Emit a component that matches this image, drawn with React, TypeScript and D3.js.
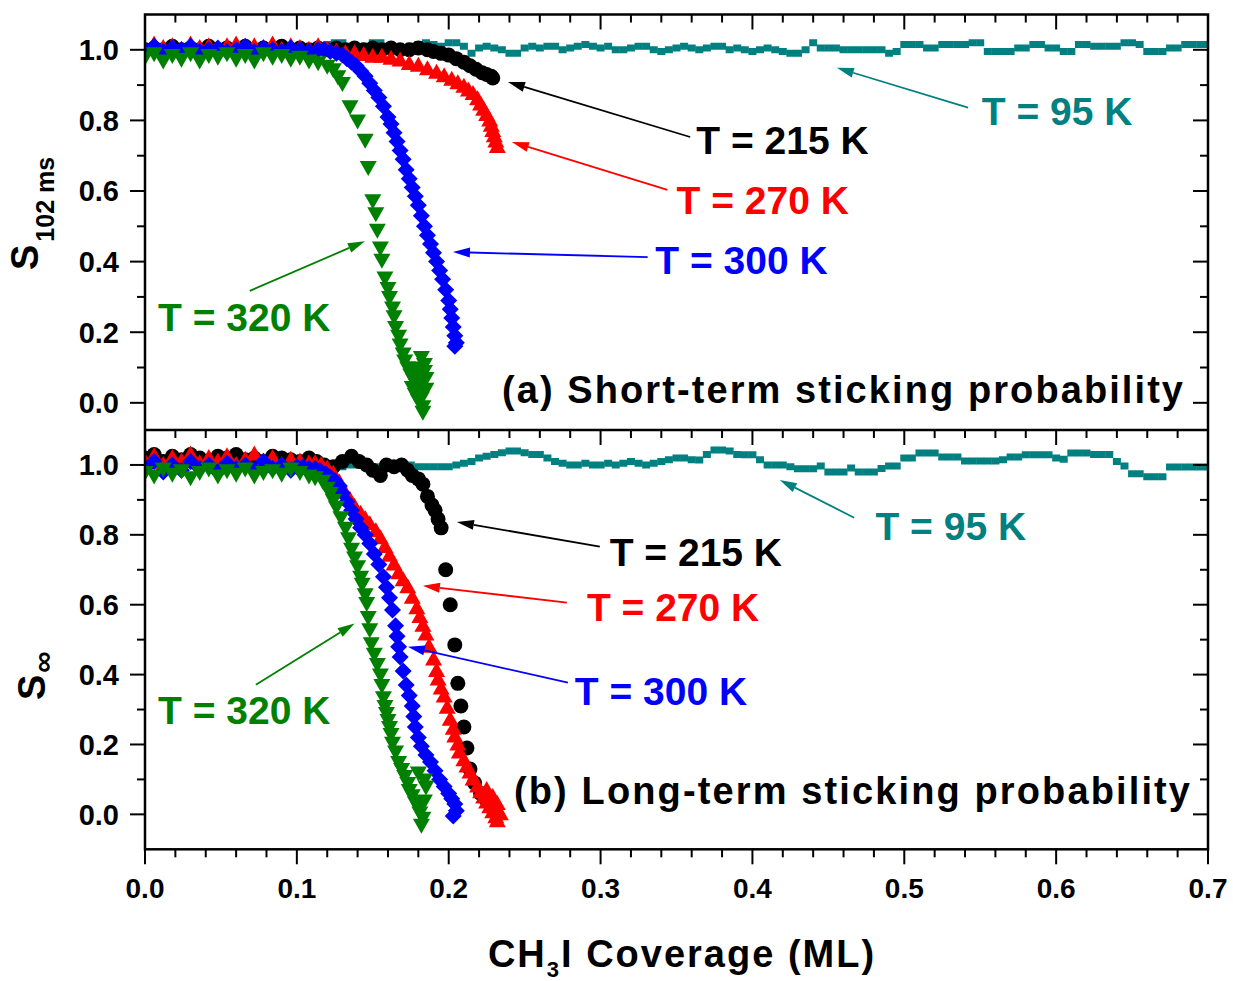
import React from "react";
import * as d3 from "d3";

// coverage axis ticks and sticking axis ticks
const xTickValues = [0, 0.1, 0.2, 0.3, 0.4, 0.5, 0.6, 0.7];
const yTickValues = [0, 0.2, 0.4, 0.6, 0.8, 1.0];

// 95 K series sampled every 0.005 ML from 0
const tealStep = 0.005;
const s95Top = [
  1.0, 1.005, 1.0, 1.01, 1.0, 1.005, 1.01, 1.0, 1.005, 1.0, 1.01, 1.005, 1.0, 1.0, 1.01, 1.005, 1.0, 1.01, 1.005, 1.0, 1.01, 1.0, 1.005, 1.01, 1.015, 1.02,
  1.02, 1.01, 1.005, 1.01, 1.02, 1.02, 1.01, 1.005, 1.005, 1.01, 1.015, 1.02, 1.015, 1.01, 1.02, 1.02, 1.01, 0.99, 1.005, 1.01, 1.005, 1.0, 0.99, 0.99, 1.005,
  1.01, 1.005, 1.01, 1.01, 1.0, 1.005, 1.01, 1.015, 1.01, 1.005, 1.01, 1.0, 1.0, 1.005, 1.01, 1.01, 1.0, 0.995, 1.0, 1.005, 1.01, 1.005, 1.0, 1.005, 1.01, 1.01, 1.0, 1.005, 1.0, 0.995, 1.0, 1.005, 1.0, 0.995, 0.99, 0.99,
  1.0, 1.02, 1.005, 1.005, 1.005, 1.0, 1.0, 1.0, 1.0, 1.0, 1.0, 0.99, 0.995, 1.015, 1.015, 1.015, 1.005, 1.005, 1.015, 1.015, 1.015, 1.015, 1.02, 1.02,
  0.995, 0.995, 0.995, 0.995, 1.005, 1.005, 1.015, 1.015, 1.005, 1.005, 0.995, 0.995, 1.015, 1.015, 1.01, 1.01, 1.01, 1.01, 1.02, 1.02, 1.015,
  0.995, 0.995, 0.995, 1.005, 1.005, 1.015, 1.015, 1.015, 1.015,
];
const s95Bottom = [
  1.01, 1.0, 1.015, 1.01, 1.005, 1.015, 1.01, 1.0, 1.01, 1.015, 1.005, 1.01, 1.015,
  1.02, 1.02, 1.015, 1.02, 1.015, 1.01, 1.01, 1.005, 1.0, 1.0, 1.0, 1.0, 0.995, 0.995, 1.0, 1.0, 1.0, 0.995, 0.995, 1.0, 1.0, 1.0, 1.0,
  0.995, 0.995, 0.995, 0.995, 0.995, 1.0, 1.005, 1.01, 1.02, 1.025, 1.03, 1.035, 1.04, 1.04, 1.035, 1.03, 1.03, 1.02, 1.01, 1.005, 1.0, 1.0,
  1.005, 1.0, 1.0, 1.005, 1.0, 1.005, 1.01, 1.005, 1.0, 1.005, 1.01, 1.015, 1.02, 1.02, 1.015,
  1.014, 1.03, 1.043, 1.043, 1.04, 1.03, 1.029, 1.029, 1.015, 1.0, 1.0, 1.0, 0.995, 0.989, 0.989, 0.989, 0.997, 0.98, 0.98, 0.98, 0.991,
  0.98, 0.98, 0.98, 0.99, 0.997, 0.997, 1.02, 1.02, 1.034, 1.034, 1.034, 1.023, 1.023, 1.023, 1.011, 1.011, 1.011, 1.011, 1.011, 1.015,
  1.023, 1.023, 1.029, 1.029, 1.029, 1.029, 1.02, 1.016, 1.034, 1.034, 1.034, 1.03, 1.03, 1.03, 1.01, 0.997, 0.975, 0.975, 0.966, 0.966,
  0.966, 0.994, 0.994, 0.994, 0.994, 0.994, 0.994,
];

// (a) short-term sticking probability, [coverage, S]
const s215Top: [number, number][] = [
  [0, 1.0], [0.006, 1.005], [0.012, 1.0], [0.018, 1.01], [0.024, 1.0], [0.03, 1.005], [0.036, 1.0], [0.042, 1.01], [0.048, 1.0],
  [0.054, 1.005], [0.06, 1.0], [0.066, 1.01], [0.072, 1.0], [0.078, 1.005], [0.084, 1.0], [0.09, 1.01], [0.096, 1.0], [0.102, 1.005],
  [0.108, 1.0], [0.114, 1.005], [0.12, 1.0], [0.126, 1.005], [0.132, 1.0], [0.138, 1.005], [0.144, 1.0], [0.15, 1.005], [0.156, 1.0],
  [0.162, 1.005], [0.168, 1.0], [0.174, 1.0], [0.18, 1.005], [0.186, 1.0], [0.19, 0.995], [0.195, 0.99], [0.2, 0.985], [0.205, 0.975],
  [0.21, 0.965], [0.214, 0.955], [0.218, 0.945], [0.222, 0.935], [0.225, 0.93], [0.228, 0.925], [0.229, 0.92],
];
const s270Top: [number, number][] = [
  [0, 1.0], [0.006, 1.015], [0.012, 1.005], [0.018, 1.01], [0.024, 1.0], [0.03, 1.015], [0.036, 1.005], [0.042, 1.01], [0.048, 1.0],
  [0.054, 1.01], [0.06, 1.015], [0.066, 1.0], [0.072, 1.01], [0.078, 1.005], [0.084, 1.015], [0.09, 1.0], [0.096, 1.01], [0.102, 1.005],
  [0.108, 1.0], [0.114, 1.01], [0.12, 1.0], [0.126, 0.995], [0.132, 0.99], [0.138, 0.99], [0.144, 0.985], [0.15, 0.98], [0.156, 0.98],
  [0.162, 0.975], [0.168, 0.97], [0.174, 0.96], [0.18, 0.955], [0.186, 0.945], [0.192, 0.935], [0.197, 0.925], [0.202, 0.915],
  [0.206, 0.905], [0.21, 0.895], [0.213, 0.885], [0.216, 0.875], [0.219, 0.86], [0.221, 0.845], [0.223, 0.83], [0.225, 0.815],
  [0.227, 0.8], [0.228, 0.785], [0.229, 0.77], [0.23, 0.755], [0.231, 0.74], [0.232, 0.725],
];
const s300Top: [number, number][] = [
  [0, 1.0], [0.006, 1.01], [0.012, 0.995], [0.018, 1.005], [0.024, 1.0], [0.03, 1.01], [0.036, 0.995], [0.042, 1.0], [0.048, 1.005],
  [0.054, 0.995], [0.06, 1.0], [0.066, 1.01], [0.072, 0.995], [0.078, 1.005], [0.084, 1.0], [0.09, 0.995], [0.096, 1.005], [0.102, 1.0],
  [0.108, 0.995], [0.114, 1.0], [0.118, 1.0], [0.122, 0.995], [0.126, 0.99], [0.13, 0.985], [0.133, 0.975], [0.136, 0.965],
  [0.139, 0.955], [0.142, 0.94], [0.145, 0.925], [0.148, 0.905], [0.151, 0.885], [0.154, 0.865], [0.157, 0.84], [0.16, 0.81],
  [0.162, 0.79], [0.164, 0.765], [0.166, 0.74], [0.168, 0.715], [0.17, 0.69], [0.172, 0.66], [0.174, 0.635], [0.176, 0.61],
  [0.178, 0.585], [0.18, 0.56], [0.182, 0.53], [0.184, 0.5], [0.186, 0.475], [0.188, 0.45], [0.19, 0.425], [0.192, 0.4],
  [0.194, 0.375], [0.196, 0.35], [0.198, 0.32], [0.2, 0.29], [0.201, 0.265], [0.202, 0.24], [0.203, 0.215], [0.204, 0.19],
  [0.205, 0.17], [0.204, 0.16],
];
const s320Top: [number, number][] = [
  [0, 0.98], [0.006, 0.99], [0.012, 0.97], [0.018, 0.985], [0.024, 0.975], [0.03, 0.99], [0.036, 0.97], [0.042, 0.985], [0.048, 0.98],
  [0.054, 0.99], [0.06, 0.975], [0.066, 0.985], [0.072, 0.97], [0.078, 0.99], [0.084, 0.98], [0.09, 0.985], [0.096, 0.975],
  [0.102, 0.98], [0.108, 0.97], [0.114, 0.965], [0.12, 0.955], [0.124, 0.945], [0.127, 0.925], [0.13, 0.906], [0.135, 0.84],
  [0.14, 0.8], [0.145, 0.745], [0.147, 0.668], [0.15, 0.574], [0.152, 0.537], [0.153, 0.49], [0.155, 0.44], [0.156, 0.405],
  [0.158, 0.355], [0.16, 0.325], [0.161, 0.3], [0.163, 0.27], [0.164, 0.245], [0.165, 0.215], [0.167, 0.19], [0.168, 0.165],
  [0.17, 0.14], [0.171, 0.12], [0.173, 0.1], [0.175, 0.08], [0.177, 0.065], [0.176, 0.045], [0.179, 0.05], [0.178, 0.025],
  [0.181, 0.035], [0.18, 0.008], [0.183, 0.06], [0.182, 0.015], [0.184, 0.09], [0.183, -0.01], [0.185, 0.04], [0.183, -0.025],
  [0.178, 0.1], [0.181, 0.08], [0.184, 0.11], [0.182, 0.13], [0.185, 0.07],
];

// (b) long-term sticking probability, [coverage, S]
const s215Bottom: [number, number][] = [
  [0, 1.02], [0.006, 1.03], [0.012, 1.01], [0.018, 1.025], [0.024, 1.015], [0.03, 1.03], [0.036, 1.02], [0.042, 1.01], [0.048, 1.025],
  [0.054, 1.02], [0.06, 1.03], [0.066, 1.015], [0.072, 1.02], [0.078, 1.01], [0.084, 1.025], [0.09, 1.02], [0.096, 1.015],
  [0.102, 1.01], [0.108, 1.02], [0.113, 1.01], [0.118, 1.0], [0.124, 0.995], [0.13, 1.01], [0.136, 1.025], [0.141, 1.01],
  [0.146, 1.0], [0.15, 0.985], [0.155, 0.97], [0.159, 1.0], [0.164, 0.995], [0.169, 1.0], [0.173, 0.985], [0.176, 0.97],
  [0.18, 0.96], [0.183, 0.945], [0.186, 0.91], [0.189, 0.885], [0.191, 0.87], [0.193, 0.845], [0.195, 0.82], [0.198, 0.7],
  [0.201, 0.6], [0.204, 0.485], [0.206, 0.375], [0.208, 0.31], [0.21, 0.25], [0.212, 0.19], [0.214, 0.13], [0.217, 0.09],
  [0.221, 0.06], [0.225, 0.04], [0.228, 0.02],
];
const s270Bottom: [number, number][] = [
  [0, 1.01], [0.006, 1.025], [0.012, 1.0], [0.018, 1.02], [0.024, 1.01], [0.03, 1.03], [0.036, 1.005], [0.042, 1.02], [0.048, 1.01],
  [0.054, 1.025], [0.06, 1.0], [0.066, 1.015], [0.072, 1.03], [0.078, 1.01], [0.084, 1.02], [0.09, 1.0], [0.096, 1.015],
  [0.102, 1.01], [0.108, 1.005], [0.112, 1.005], [0.116, 1.0], [0.12, 0.99], [0.124, 0.975], [0.128, 0.95], [0.131, 0.925],
  [0.135, 0.9], [0.138, 0.88], [0.142, 0.86], [0.145, 0.845], [0.148, 0.83], [0.152, 0.81], [0.155, 0.79], [0.158, 0.765],
  [0.161, 0.74], [0.164, 0.715], [0.167, 0.69], [0.17, 0.67], [0.173, 0.65], [0.176, 0.62], [0.179, 0.59], [0.181, 0.565],
  [0.183, 0.54], [0.185, 0.515], [0.187, 0.48], [0.19, 0.443], [0.192, 0.41], [0.193, 0.386], [0.195, 0.36], [0.197, 0.337],
  [0.199, 0.305], [0.201, 0.271], [0.203, 0.245], [0.204, 0.223], [0.206, 0.2], [0.207, 0.177], [0.21, 0.155], [0.212, 0.137],
  [0.214, 0.12], [0.216, 0.1], [0.219, 0.08], [0.221, 0.063], [0.223, 0.048], [0.225, 0.034], [0.227, 0.02], [0.229, 0.006],
  [0.231, -0.008], [0.232, -0.02], [0.234, 0.0], [0.229, 0.05], [0.225, 0.07], [0.232, 0.03],
];
const s300Bottom: [number, number][] = [
  [0, 0.99], [0.006, 1.01], [0.012, 0.98], [0.018, 1.0], [0.024, 0.985], [0.03, 1.01], [0.036, 0.99], [0.042, 1.0], [0.048, 0.98],
  [0.054, 1.005], [0.06, 0.99], [0.066, 1.0], [0.072, 0.985], [0.078, 1.01], [0.084, 0.99], [0.09, 1.0], [0.096, 0.985],
  [0.1, 0.995], [0.104, 0.995], [0.108, 0.99], [0.112, 0.99], [0.115, 0.985], [0.119, 0.975], [0.122, 0.965], [0.125, 0.955],
  [0.128, 0.94], [0.13, 0.92], [0.133, 0.895], [0.136, 0.87], [0.139, 0.845], [0.142, 0.82], [0.145, 0.8], [0.148, 0.775],
  [0.151, 0.745], [0.154, 0.715], [0.157, 0.68], [0.159, 0.65], [0.161, 0.62], [0.163, 0.585], [0.165, 0.54], [0.166, 0.51],
  [0.167, 0.48], [0.168, 0.45], [0.17, 0.41], [0.172, 0.37], [0.174, 0.34], [0.176, 0.31], [0.177, 0.28], [0.178, 0.25],
  [0.18, 0.22], [0.182, 0.195], [0.185, 0.17], [0.188, 0.15], [0.191, 0.125], [0.194, 0.1], [0.197, 0.08], [0.2, 0.06],
  [0.202, 0.045], [0.204, 0.03], [0.205, 0.01], [0.203, -0.005],
];
const s320Bottom: [number, number][] = [
  [0, 0.98], [0.006, 0.97], [0.012, 0.99], [0.018, 0.975], [0.024, 0.985], [0.03, 0.965], [0.036, 0.98], [0.042, 0.99], [0.048, 0.97],
  [0.054, 0.985], [0.06, 0.975], [0.066, 0.99], [0.072, 0.97], [0.078, 0.98], [0.084, 0.985], [0.09, 0.975], [0.096, 0.99],
  [0.102, 0.98], [0.108, 0.97], [0.112, 0.965], [0.117, 0.955], [0.12, 0.935], [0.122, 0.92], [0.124, 0.9], [0.126, 0.88],
  [0.129, 0.85], [0.132, 0.82], [0.134, 0.79], [0.136, 0.76], [0.138, 0.735], [0.14, 0.71], [0.142, 0.68], [0.143, 0.66],
  [0.145, 0.63], [0.146, 0.605], [0.147, 0.565], [0.148, 0.53], [0.149, 0.49], [0.151, 0.46], [0.153, 0.43], [0.155, 0.4],
  [0.156, 0.37], [0.157, 0.335], [0.158, 0.31], [0.159, 0.29], [0.16, 0.27], [0.161, 0.25], [0.162, 0.23], [0.163, 0.205],
  [0.165, 0.18], [0.167, 0.15], [0.169, 0.13], [0.171, 0.11], [0.173, 0.09], [0.174, 0.07], [0.176, 0.055], [0.178, 0.035],
  [0.18, 0.02], [0.181, 0.005], [0.183, -0.01], [0.182, -0.03], [0.184, 0.04], [0.185, 0.08], [0.184, 0.1], [0.18, 0.12],
];

// annotation labels: text anchor and arrow (tail -> head), in data units
const notesTop = [
  { text: "T = 95 K", color: "#008080", tx: 0.551, ty: 0.786, a: [0.542, 0.836, 0.4556, 0.949] },
  { text: "T = 215 K", color: "#000000", tx: 0.363, ty: 0.705, a: [0.359, 0.753, 0.239, 0.909] },
  { text: "T = 270 K", color: "#ff0000", tx: 0.35, ty: 0.535, a: [0.344, 0.603, 0.2416, 0.739] },
  { text: "T = 300 K", color: "#0000ff", tx: 0.336, ty: 0.365, a: [0.331, 0.413, 0.2028, 0.427] },
  { text: "T = 320 K", color: "#008000", tx: 0.0086, ty: 0.203, a: [0.069, 0.317, 0.1448, 0.458] },
];
const notesBottom = [
  { text: "T = 95 K", color: "#008080", tx: 0.481, ty: 0.786, a: [0.467, 0.849, 0.418, 0.957] },
  { text: "T = 215 K", color: "#000000", tx: 0.306, ty: 0.711, a: [0.2995, 0.766, 0.2054, 0.837] },
  { text: "T = 270 K", color: "#ff0000", tx: 0.291, ty: 0.554, a: [0.2778, 0.606, 0.183, 0.654] },
  { text: "T = 300 K", color: "#0000ff", tx: 0.283, ty: 0.314, a: [0.2785, 0.377, 0.1731, 0.48] },
  { text: "T = 320 K", color: "#008000", tx: 0.0086, ty: 0.26, a: [0.073, 0.371, 0.138, 0.546] },
];

const W = 1233;
const H = 981;
const FONT = "'Liberation Sans', Arial, sans-serif";

const x = d3.scaleLinear().domain([0, 0.7]).range([145, 1208]);
const yTop = d3.scaleLinear().domain([-0.075, 1.1]).range([429.3, 14.5]);
const yBot = d3.scaleLinear().domain([-0.1, 1.1]).range([849.3, 430]);
const fmt = d3.format(".1f");

const shapes: Record<string, string> = {
  triDown: "M-8.5,-6L8.5,-6L0,9Z",
  triUp: "M-8.5,6L8.5,6L0,-9Z",
  diamond: "M0,-8.5L8.5,0L0,8.5L-8.5,0Z",
  square: "M-4,-3.5h8v7h-8Z",
};

function Markers({ data, y, shape, color }: { data: [number, number][]; y: any; shape: string; color: string }) {
  return (
    <g fill={color}>
      {data.map(([cx, cy], i) =>
        shape === "circle" ? (
          <circle key={i} cx={x(cx)} cy={y(cy)} r={7.5} />
        ) : (
          <path key={i} d={shapes[shape]} transform={`translate(${x(cx)},${y(cy)})`} />
        )
      )}
    </g>
  );
}

function Arrow({ a, y, color }: { a: number[]; y: any; color: string }) {
  const x1 = x(a[0]), y1 = y(a[1]), x2 = x(a[2]), y2 = y(a[3]);
  const ang = Math.atan2(y2 - y1, x2 - x1);
  const L = 17, hw = 5;
  const bx = x2 - L * Math.cos(ang), by = y2 - L * Math.sin(ang);
  const nx = -Math.sin(ang) * hw, ny = Math.cos(ang) * hw;
  return (
    <g>
      <line x1={x1} y1={y1} x2={bx} y2={by} stroke={color} strokeWidth={1.8} />
      <path d={`M${x2},${y2}L${bx + nx},${by + ny}L${bx - nx},${by - ny}Z`} fill={color} />
    </g>
  );
}

function Panel({ y, top, bottom, s95, s215, s270, s300, s320, notes, title, titleY }: any) {
  const minorX = x.ticks(35);
  const yMinor = d3.range(0, 11).map((d) => d / 10);
  const teal: [number, number][] = s95.map((v: number, i: number) => [i * tealStep, v]);
  return (
    <g>
      <clipPath id={`clip${top}`}>
        <rect x={145} y={top} width={1063} height={bottom - top} />
      </clipPath>
      <g clipPath={`url(#clip${top})`}>
        <Markers data={teal} y={y} shape="square" color="#008080" />
        <Markers data={s215} y={y} shape="circle" color="#000000" />
        <Markers data={s270} y={y} shape="triUp" color="#ff0000" />
        <Markers data={s300} y={y} shape="diamond" color="#0000ff" />
        <Markers data={s320} y={y} shape="triDown" color="#008000" />
      </g>
      {/* y ticks: outward on left, inward on right; x ticks inward along the top edge */}
      <g stroke="#000" strokeWidth={2}>
        {yMinor.map((v) => {
          const major = yTickValues.some((t) => Math.abs(t - v) < 1e-6);
          const len = major ? 15 : 8;
          return (
            <g key={v}>
              <line x1={145 - len} x2={145} y1={y(v)} y2={y(v)} />
              <line x1={1208 - len} x2={1208} y1={y(v)} y2={y(v)} />
            </g>
          );
        })}
        {minorX.map((v) => {
          const major = xTickValues.some((t) => Math.abs(t - v) < 1e-6);
          return <line key={v} x1={x(v)} x2={x(v)} y1={top} y2={top + (major ? 15 : 8)} />;
        })}
      </g>
      <g fontFamily={FONT} fontWeight="bold" fontSize={29} textAnchor="end">
        {yTickValues.map((v) => (
          <text key={v} x={119} y={y(v)} dy="0.36em">
            {fmt(v)}
          </text>
        ))}
      </g>
      {notes.map((n: any, i: number) => (
        <g key={i}>
          <Arrow a={n.a} y={y} color={n.color} />
          <text x={x(n.tx)} y={y(n.ty)} fill={n.color} fontFamily={FONT} fontWeight="bold" fontSize={39}>
            {n.text}
          </text>
        </g>
      ))}
      <text
        x={title.x}
        y={y(titleY)}
        textAnchor="end"
        fontFamily={FONT}
        fontWeight="bold"
        fontSize={38}
        textLength={title.len}
        lengthAdjust="spacing"
      >
        {title.text}
      </text>
    </g>
  );
}

export default function App() {
  const minorX = x.ticks(35);
  return (
    <svg width={W} height={H} style={{ position: "absolute", left: 0, top: 0, background: "#fff" }}>
      <rect width={W} height={H} fill="#fff" />
      <Panel
        y={yTop}
        top={14.5}
        bottom={429.3}
        s95={s95Top}
        s215={s215Top}
        s270={s270Top}
        s300={s300Top}
        s320={s320Top}
        notes={notesTop}
        title={{ text: "(a) Short-term sticking probability", x: 1183, len: 681 }}
        titleY={0.0}
      />
      <Panel
        y={yBot}
        top={430}
        bottom={849.3}
        s95={s95Bottom}
        s215={s215Bottom}
        s270={s270Bottom}
        s300={s300Bottom}
        s320={s320Bottom}
        notes={notesBottom}
        title={{ text: "(b) Long-term sticking probability", x: 1190, len: 676 }}
        titleY={0.03}
      />
      {/* frame */}
      <rect x={145} y={14.5} width={1063} height={834.8} fill="none" stroke="#000" strokeWidth={2.5} />
      <line x1={145} x2={1208} y1={430} y2={430} stroke="#000" strokeWidth={2.5} />
      {/* bottom x axis, outward ticks */}
      <g stroke="#000" strokeWidth={2}>
        {minorX.map((v) => {
          const major = xTickValues.some((t) => Math.abs(t - v) < 1e-6);
          return <line key={v} x1={x(v)} x2={x(v)} y1={849.3} y2={849.3 + (major ? 15 : 8)} />;
        })}
      </g>
      <g fontFamily={FONT} fontWeight="bold" fontSize={28} textAnchor="middle">
        {xTickValues.map((v) => (
          <text key={v} x={x(v)} y={898}>
            {fmt(v)}
          </text>
        ))}
      </g>
      <text x={682} y={967} textAnchor="middle" fontFamily={FONT} fontWeight="bold" fontSize={38} letterSpacing={2}>
        CH
        <tspan fontSize={22} dy={10}>3</tspan>
        <tspan dy={-10}>I Coverage (ML)</tspan>
      </text>
      {/* y titles */}
      <text transform="translate(38,270) rotate(-90)" fontFamily={FONT} fontWeight="bold" fontSize={38}>
        S
        <tspan fontSize={25} dy={16} dx={3}>102 ms</tspan>
      </text>
      <text transform="translate(45,700) rotate(-90)" fontFamily={FONT} fontWeight="bold" fontSize={38}>
        S
        <tspan fontSize={30} dy={8} dx={2}>∞</tspan>
      </text>
    </svg>
  );
}
